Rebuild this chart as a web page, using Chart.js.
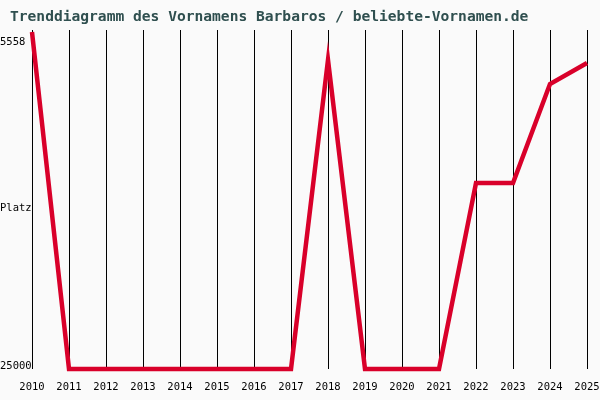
<!DOCTYPE html>
<html>
<head>
<meta charset="utf-8">
<script src="https://cdn.jsdelivr.net/npm/chart.js@4"></script>
<style>
  html, body { margin: 0; padding: 0; background: #fafafa; }
  #wrap { width: 600px; height: 400px; }
</style>
</head>
<body>
<div id="wrap"><canvas id="c"></canvas></div>
<script>
const years = [2010, 2011, 2012, 2013, 2014, 2015, 2016, 2017, 2018, 2019, 2020, 2021, 2022, 2023, 2024, 2025];
const ranks = [5558, 25000, 25000, 25000, 25000, 25000, 25000, 25000, 7170, 25000, 25000, 25000, 14270, 14270, 8560, 7350];
const yTicks = ['5558', 'Platz', '25000'];
const title = 'Trenddiagramm des Vornamens Barbaros / beliebte-Vornamen.de';

const font = '"DejaVu Sans Mono", monospace';

// Gitterlinien, Achsenbeschriftung und Titel selbst zeichnen
const decor = {
    id: 'decor',
    beforeDatasetsDraw(chart) {
        const { ctx, chartArea: a, scales: { x, y } } = chart;
        ctx.save();
        ctx.strokeStyle = '#000';
        ctx.lineWidth = 1;
        years.forEach(yr => {
            const px = Math.round(x.getPixelForValue(yr)) + 0.5;
            ctx.beginPath();
            ctx.moveTo(px, a.top - 2);
            ctx.lineTo(px, a.bottom);
            ctx.stroke();
        });
        ctx.fillStyle = '#000';
        ctx.font = '10.5px ' + font;
        ctx.textAlign = 'center';
        ctx.textBaseline = 'middle';
        years.forEach(yr => ctx.fillText(String(yr), x.getPixelForValue(yr), 387));
        ctx.textAlign = 'left';
        ctx.fillText(yTicks[0], 0, y.getPixelForValue(5558) + 10);
        ctx.fillText(yTicks[1], 0, 208);
        ctx.fillText(yTicks[2], 0, y.getPixelForValue(25000) - 3);
        ctx.fillStyle = '#2f4f4f';
        ctx.font = 'bold 14.6px ' + font;
        ctx.fillText(title, 10, 17);
        ctx.restore();
    }
};

new Chart(document.getElementById('c'), {
    type: 'line',
    data: {
        datasets: [{
            data: years.map((yr, i) => ({ x: yr, y: ranks[i] })),
            borderColor: '#d9002a',
            borderWidth: 4.5,
            pointRadius: 0,
            tension: 0,
            clip: false
        }]
    },
    options: {
        responsive: true,
        maintainAspectRatio: false,
        animation: false,
        layout: { padding: { left: 32, right: 13, top: 32, bottom: 31 } },
        plugins: { legend: { display: false }, tooltip: { enabled: false } },
        scales: {
            x: { type: 'linear', min: 2010, max: 2025, display: false },
            y: { min: 5558, max: 25000, reverse: true, display: false }
        }
    },
    plugins: [decor]
});
</script>
</body>
</html>
